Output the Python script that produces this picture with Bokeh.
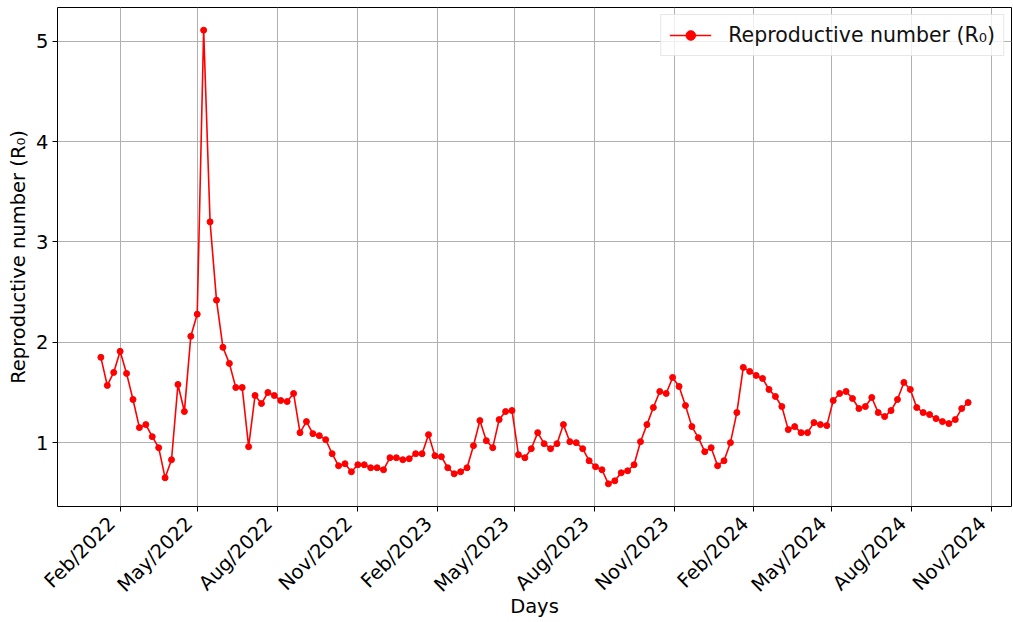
import pandas as pd
from bokeh.plotting import figure
from bokeh.models import Range1d, FixedTicker, DatetimeTickFormatter
from bokeh.embed import file_html
from bokeh.resources import INLINE

# Estimated reproductive number, one value per sampling date
r0_values = [
    1.85, 1.57, 1.70, 1.91, 1.69, 1.43, 1.15, 1.18, 1.06, 0.95,
    0.65, 0.83, 1.58, 1.31, 2.06, 2.28, 5.11, 3.20, 2.42, 1.95,
    1.79, 1.55, 1.55, 0.96, 1.47, 1.39, 1.50, 1.47, 1.42, 1.41,
    1.49, 1.10, 1.21, 1.09, 1.07, 1.03, 0.89, 0.77, 0.79, 0.71,
    0.78, 0.78, 0.75, 0.75, 0.73, 0.85, 0.85, 0.83, 0.84, 0.89,
    0.89, 1.08, 0.87, 0.86, 0.75, 0.69, 0.71, 0.75, 0.97, 1.22,
    1.02, 0.95, 1.23, 1.31, 1.32, 0.88, 0.85, 0.94, 1.10, 0.99,
    0.94, 0.99, 1.18, 1.01, 1.00, 0.94, 0.82, 0.76, 0.73, 0.59,
    0.62, 0.70, 0.72, 0.78, 1.01, 1.18, 1.35, 1.51, 1.49, 1.65,
    1.56, 1.37, 1.16, 1.05, 0.91, 0.95, 0.77, 0.82, 1.00, 1.30,
    1.75, 1.71, 1.67, 1.64, 1.53, 1.46, 1.36, 1.13, 1.16, 1.10,
    1.10, 1.20, 1.18, 1.17, 1.42, 1.49, 1.51, 1.44, 1.34, 1.36,
    1.45, 1.30, 1.26, 1.32, 1.43, 1.60, 1.53, 1.35, 1.30, 1.28,
    1.24, 1.21, 1.19, 1.23, 1.34, 1.40,
]
first_day = "2022-01-09"
last_day = "2024-10-05"
days = pd.date_range(first_day, last_day, periods=len(r0_values))

tick_months = [
    "2022-02-01", "2022-05-01", "2022-08-01", "2022-11-01",
    "2023-02-01", "2023-05-01", "2023-08-01", "2023-11-01",
    "2024-02-01", "2024-05-01", "2024-08-01", "2024-11-01",
]
y_ticks = [1, 2, 3, 4, 5]
series_label = "Reproductive number (R\u2080)"

FONT = "DejaVu Sans"
FS = "19.5px"
# two no-break spaces after each date label slide the rotated text
# down-left along its own baseline
DATE_FMT = "%b/%Y\u00a0\u00a0"


def ms(ts):
    return pd.Timestamp(ts).value / 1e6


x0, x1 = ms(days[0]), ms(days[-1])
xpad = 0.05 * (x1 - x0)
y0, y1 = min(r0_values), max(r0_values)
ypad = 0.05 * (y1 - y0)

p = figure(
    width=1013, height=622,
    x_axis_type="datetime",
    x_range=Range1d(x0 - xpad, x1 + xpad),
    y_range=Range1d(y0 - ypad, y1 + ypad),
    output_backend="svg", toolbar_location=None,
    min_border_left=57, min_border_right=2,
    min_border_top=7, min_border_bottom=116,
)
p.background_fill_color = "white"
p.border_fill_color = "white"
p.outline_line_color = "black"
p.outline_line_width = 1

p.line(days, r0_values, color="#ff0000", line_width=1.6, legend_label=series_label)
p.scatter(days, r0_values, size=6, color="#ff0000", legend_label=series_label)

p.xaxis.ticker = FixedTicker(ticks=[ms(t) for t in tick_months])
p.xaxis.formatter = DatetimeTickFormatter(
    days=DATE_FMT, months=DATE_FMT, years=DATE_FMT,
)
p.xaxis.major_label_orientation = 0.785398
p.yaxis.ticker = FixedTicker(ticks=y_ticks)

p.xaxis.axis_label = "Days"
p.yaxis.axis_label = series_label

for ax in (p.xaxis, p.yaxis):
    ax.axis_line_color = None
    ax.major_tick_in = 0
    ax.major_tick_out = 5
    ax.major_tick_line_color = "black"
    ax.minor_tick_line_color = None
    ax.major_label_text_font = FONT
    ax.major_label_text_font_size = FS
    ax.major_label_text_color = "black"
    ax.major_label_standoff = 4
    ax.axis_label_text_font = FONT
    ax.axis_label_text_font_size = FS
    ax.axis_label_text_font_style = "normal"
    ax.axis_label_text_color = "black"
p.xaxis.major_label_standoff = 0
p.yaxis.axis_label_standoff = 3
p.xaxis.axis_label_standoff = -13

p.xgrid.grid_line_color = "#b0b0b0"
p.ygrid.grid_line_color = "#b0b0b0"
p.xgrid.grid_line_width = 1
p.ygrid.grid_line_width = 1

lg = p.legend[0]
lg.location = "top_right"
lg.margin = 7
lg.padding = 8
lg.spacing = 0
lg.glyph_width = 42
lg.glyph_height = 24
lg.label_height = 24
lg.label_standoff = 17
lg.label_text_font = FONT
lg.label_text_font_size = "20.5px"
lg.label_text_color = "#111111"
lg.border_line_color = "#d0d0d0"
lg.border_line_width = 1
lg.background_fill_alpha = 0.8

open("out.html", "w").write(file_html(p, INLINE))
